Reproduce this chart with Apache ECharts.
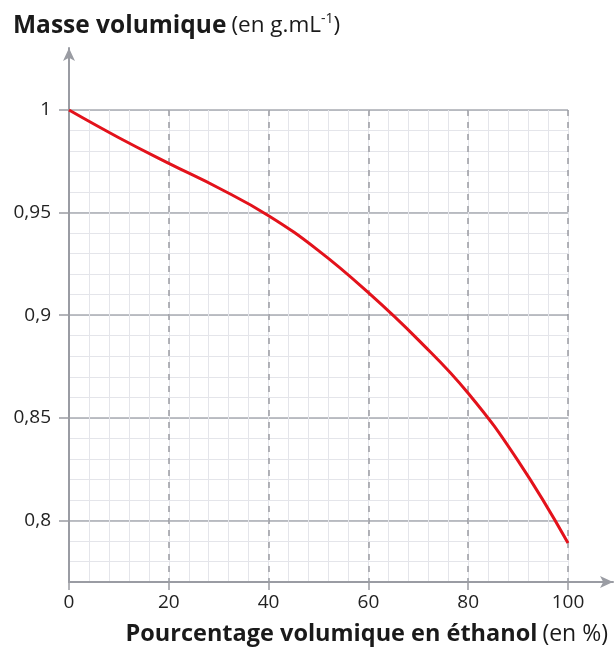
<!DOCTYPE html>
<html>
<head>
<meta charset="utf-8">
<script src="https://cdn.jsdelivr.net/npm/echarts@6/dist/echarts.min.js"></script>
<style>
  html, body { margin: 0; padding: 0; background: #ffffff; }
  #chart { width: 615px; height: 652px; }
</style>
</head>
<body>
<div id="chart"></div>
<script>
// Data
const ethanolPercent = [0, 10, 20, 30, 40, 50, 60, 70, 80, 90, 100];
const density = [1.0, 0.9865, 0.974, 0.962, 0.9485, 0.9315, 0.911, 0.888, 0.862, 0.829, 0.789];
const yMajorTicks = [0.8, 0.85, 0.9, 0.95, 1];
const xMajorTicks = [0, 20, 40, 60, 80, 100];

const FONT = 'Open Sans';
const chart = echarts.init(document.getElementById('chart'), null, { renderer: 'canvas' });

const option = {
  backgroundColor: '#ffffff',
  animation: false,
  title: [
    {
      left: 8, top: 7,
      text: '{b|Masse volumique} {n|(en g.mL}{s|-1}{n|)}',
      textStyle: {
        fontWeight: 'normal',
        rich: {
          b: { fontFamily: FONT, fontSize: 24.5, fontWeight: 'bold', color: '#1a1a1a' },
          n: { fontFamily: FONT, fontSize: 22.5, fontWeight: 'normal', color: '#1a1a1a' },
          s: { fontFamily: FONT, fontSize: 14, fontWeight: 'normal', color: '#1a1a1a', padding: [0, 0, 14, 0] }
        }
      }
    },
    {
      right: 2, top: 617,
      text: '{b|Pourcentage volumique en éthanol} {n|(en %)}',
      textStyle: {
        fontWeight: 'normal',
        rich: {
          b: { fontFamily: FONT, fontSize: 23.5, fontWeight: 'bold', color: '#1a1a1a' },
          n: { fontFamily: FONT, fontSize: 23, fontWeight: 'normal', color: '#1a1a1a' }
        }
      }
    }
  ],
  grid: [
    { left: 69, right: 47, top: 110, bottom: 70 },
    { left: 69, width: 10, top: 48, bottom: 70 },
    { left: 69, right: 2, top: 110, bottom: 70 }
  ],
  xAxis: [
    { // minor vertical grid
      type: 'value', gridIndex: 0, min: 0, max: 100, interval: 4, position: 'bottom',
      axisLine: { show: false }, axisTick: { show: false }, axisLabel: { show: false },
      splitLine: { show: true, lineStyle: { color: '#e4e5ea', width: 1 } }
    },
    { // major ticks, labels, dashed lines
      type: 'value', gridIndex: 0, min: 0, max: 100, interval: 20, position: 'bottom',
      axisLine: { show: false },
      axisTick: { show: true, length: 8, lineStyle: { color: '#9a9ca3', width: 1.5 } },
      axisLabel: {
        show: true, margin: 11, fontFamily: FONT, fontSize: 19, color: '#222'
      },
      splitLine: { show: true, lineStyle: { color: '#9a9ca3', width: 1.5, type: [6, 6] } }
    },
    { type: 'value', gridIndex: 1, min: 0, max: 1, show: false },
    { // x axis line with arrow
      type: 'value', gridIndex: 2, min: 0, max: 1, position: 'bottom',
      axisLine: { show: true, symbol: ['none', 'arrow'], symbolSize: [9, 13], lineStyle: { color: '#9a9ca3', width: 2 } },
      axisTick: { show: false }, axisLabel: { show: false }, splitLine: { show: false }
    }
  ],
  yAxis: [
    { // minor horizontal grid
      type: 'value', gridIndex: 0, min: 0.77, max: 1.0, interval: 0.01, position: 'left',
      axisLine: { show: false }, axisTick: { show: false }, axisLabel: { show: false },
      splitLine: { show: true, lineStyle: { color: '#e4e5ea', width: 1 } }
    },
    { // major ticks, labels, solid lines
      type: 'value', gridIndex: 0, min: 0.77, max: 1.0, position: 'left', offset: 0,
      axisLine: { show: false },
      axisTick: { show: true, length: 10, customValues: yMajorTicks, lineStyle: { color: '#9a9ca3', width: 1.5 } },
      axisLabel: {
        show: true, margin: 18, customValues: yMajorTicks,
        fontFamily: FONT, fontSize: 19, color: '#222',
        formatter: v => String(v).replace('.', ',')
      },
      splitLine: { show: true, lineStyle: { color: '#a9abb2', width: 1.5 } }
    },
    { // y axis line with arrow
      type: 'value', gridIndex: 1, min: 0, max: 1, position: 'left',
      axisLine: { show: true, symbol: ['none', 'arrow'], symbolSize: [9, 13], lineStyle: { color: '#9a9ca3', width: 2 } },
      axisTick: { show: false }, axisLabel: { show: false }, splitLine: { show: false }
    },
    { type: 'value', gridIndex: 2, min: 0, max: 1, show: false }
  ],
  series: [
    {
      type: 'line',
      xAxisIndex: 1, yAxisIndex: 1,
      data: ethanolPercent.map((x, i) => [x, density[i]]),
      smooth: 0.45,
      showSymbol: false,
      lineStyle: { color: '#e3121b', width: 3 },
      z: 5
    }
  ]
};
chart.setOption(option);
</script>
</body>
</html>
